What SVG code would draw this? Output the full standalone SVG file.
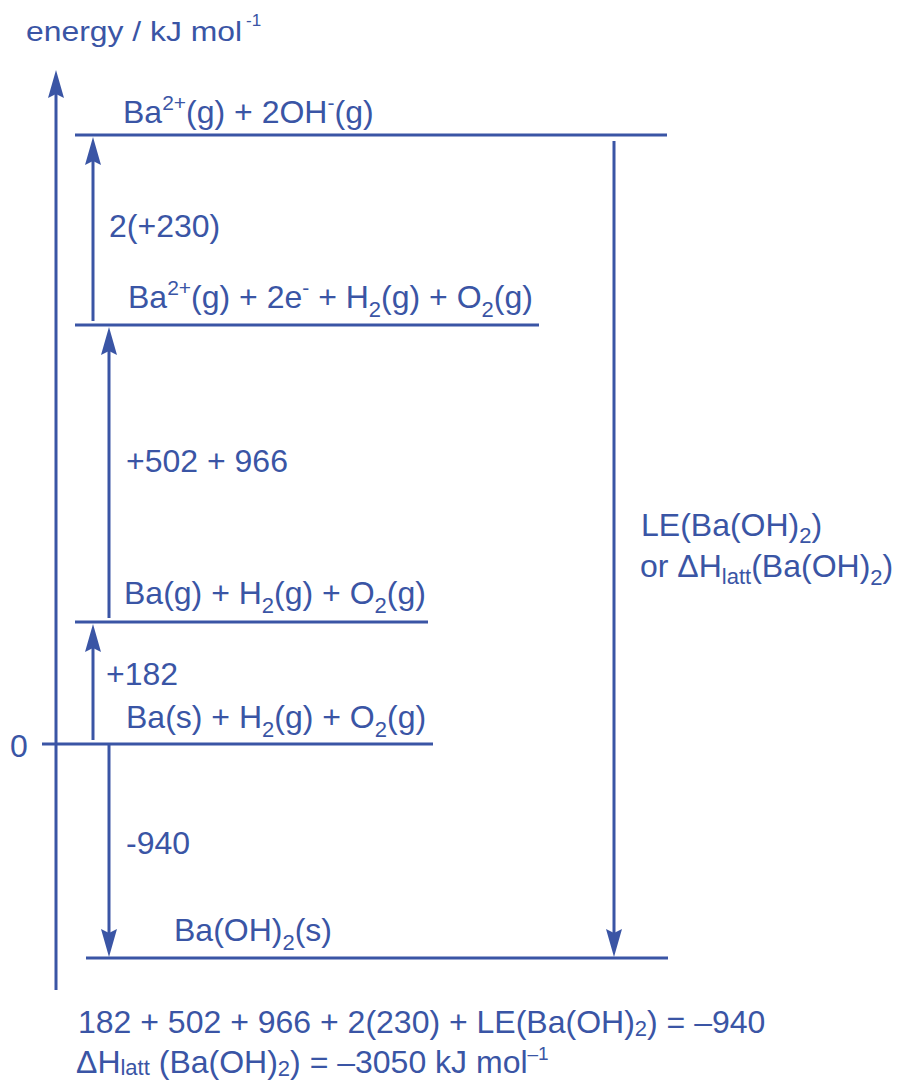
<svg xmlns="http://www.w3.org/2000/svg" width="897" height="1082" viewBox="0 0 897 1082">
<style>
.t{font-family:"Liberation Sans",Arial,sans-serif;font-size:32px;fill:#3a55a5}
.lv{stroke:#3a55a5;stroke-width:3;fill:none}
.ar{stroke:#3a55a5;stroke-width:3;fill:none;marker-end:url(#ah)}
</style>
<defs>
<marker id="ah" viewBox="0 0 28 16" refX="18" refY="8" markerWidth="28" markerHeight="16" markerUnits="userSpaceOnUse" orient="auto">
<path d="M0,0 L28,8 L0,16 L4,8 Z" fill="#3a55a5"/>
</marker>
</defs>
<rect width="897" height="1082" fill="#ffffff"/>
<g id="axis">
<line class="ar" x1="56" y1="990" x2="56" y2="80"/>
<text class="t" x="26" y="41" style="font-size:27px" textLength="216" lengthAdjust="spacingAndGlyphs">energy / kJ mol</text>
<text class="t" x="246" y="26" style="font-size:17px">-1</text>
<text class="t" x="10" y="757">0</text>
</g>
<g id="level-ions">
<line class="lv" x1="75" y1="135" x2="667" y2="135"/>
<text class="t" x="123" y="123">Ba<tspan dy="-13" font-size="21">2+</tspan><tspan dy="13">(g) + 2OH</tspan><tspan dy="-13" font-size="21">-</tspan><tspan dy="13">(g)</tspan></text>
</g>
<g id="level-electrons">
<line class="lv" x1="75" y1="325" x2="539" y2="325"/>
<text class="t" x="128" y="308">Ba<tspan dy="-13" font-size="21">2+</tspan><tspan dy="13">(g) + 2e</tspan><tspan dy="-13" font-size="21">-</tspan><tspan dy="13"> + H</tspan><tspan dy="9" font-size="22">2</tspan><tspan dy="-9">(g) + O</tspan><tspan dy="9" font-size="22">2</tspan><tspan dy="-9">(g)</tspan></text>
</g>
<g id="level-atoms">
<line class="lv" x1="75" y1="622" x2="428" y2="622"/>
<text class="t" x="124" y="604">Ba(g) + H<tspan dy="9" font-size="22">2</tspan><tspan dy="-9">(g) + O</tspan><tspan dy="9" font-size="22">2</tspan><tspan dy="-9">(g)</tspan></text>
</g>
<g id="level-elements">
<line class="lv" x1="42" y1="744" x2="433" y2="744"/>
<text class="t" x="126" y="728">Ba(s) + H<tspan dy="9" font-size="22">2</tspan><tspan dy="-9">(g) + O</tspan><tspan dy="9" font-size="22">2</tspan><tspan dy="-9">(g)</tspan></text>
</g>
<g id="level-solid">
<line class="lv" x1="86" y1="958" x2="668" y2="958"/>
<text class="t" x="174" y="941">Ba(OH)<tspan dy="9" font-size="22">2</tspan><tspan dy="-9">(s)</tspan></text>
</g>
<g id="connectors">
<line class="ar" x1="93" y1="321" x2="93" y2="147"/>
<line class="ar" x1="109" y1="618" x2="109" y2="337"/>
<line class="ar" x1="93" y1="740" x2="93" y2="634"/>
<line class="ar" x1="109" y1="744" x2="109" y2="947"/>
<line class="ar" x1="614" y1="141" x2="614" y2="947"/>
</g>
<g id="labels">
<text class="t" x="109" y="237">2(+230)</text>
<text class="t" x="126" y="472">+502 + 966</text>
<text class="t" x="106" y="685">+182</text>
<text class="t" x="126" y="854">-940</text>
<text class="t" x="641" y="536">LE(Ba(OH)<tspan dy="7" font-size="22">2</tspan><tspan dy="-7">)</tspan></text>
<text class="t" x="640" y="577">or ΔH<tspan dy="7" font-size="22">latt</tspan><tspan dy="-7">(Ba(OH)</tspan><tspan dy="8" font-size="22">2</tspan><tspan dy="-8">)</tspan></text>
</g>
<g id="equations">
<text class="t" x="78" y="1033">182 + 502 + 966 + 2(230) + LE(Ba(OH)<tspan dy="3" font-size="22">2</tspan><tspan dy="-3">) = –940</tspan></text>
<text class="t" x="76" y="1073">ΔH<tspan dy="2" font-size="22">latt</tspan><tspan dy="-2"> (Ba(OH)</tspan><tspan dy="3" font-size="22">2</tspan><tspan dy="-3">) = –3050 kJ mol</tspan><tspan dy="-13" font-size="19">–1</tspan></text>
</g>
</svg>
